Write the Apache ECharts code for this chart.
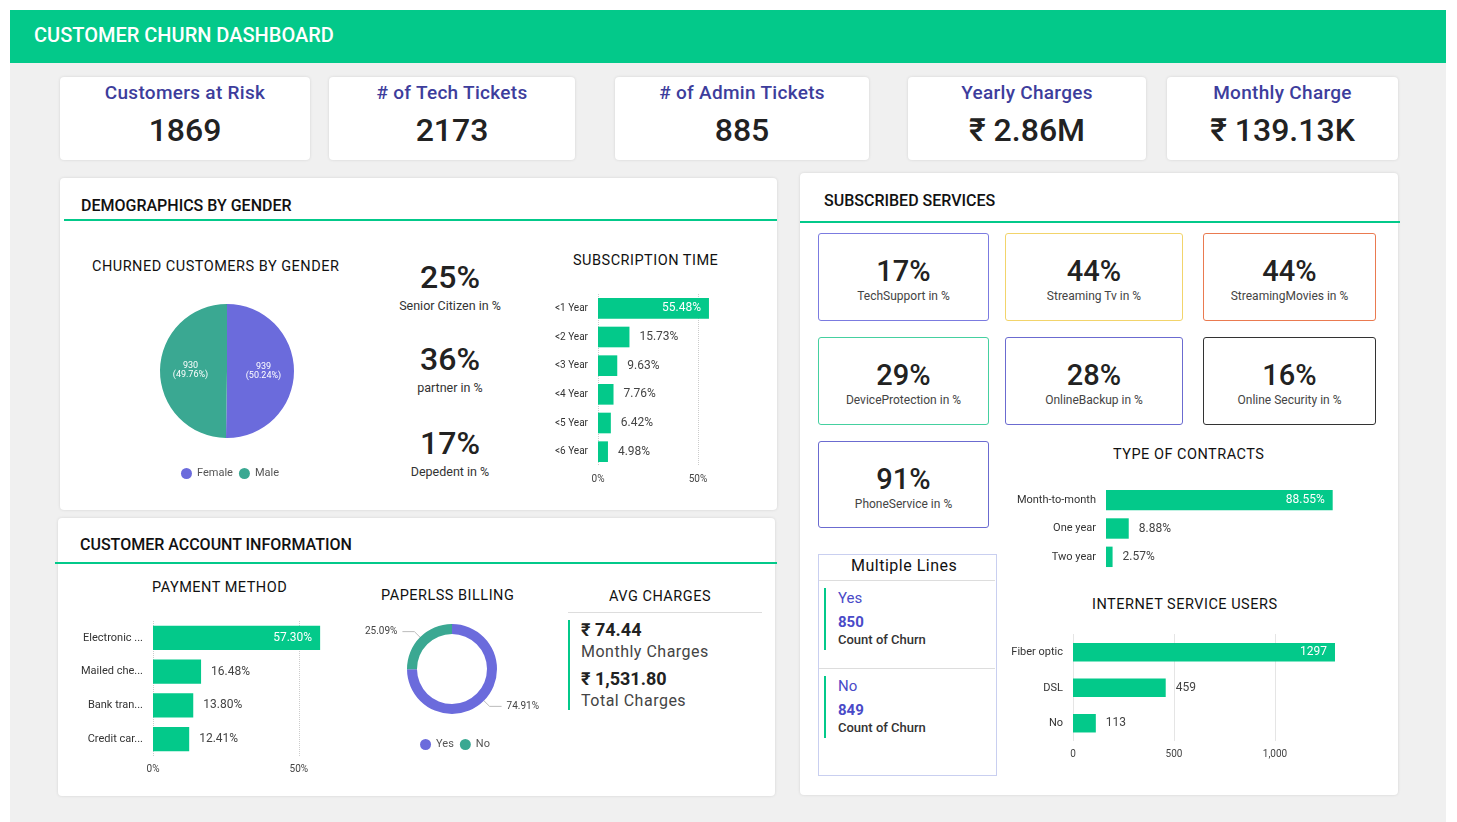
<!DOCTYPE html><html><head><meta charset="utf-8">
<script src="https://cdn.jsdelivr.net/npm/echarts@6/dist/echarts.min.js"></script>
<style>
body{margin:0;width:1457px;height:822px;position:relative;background:#fff;font-family:Roboto,"DejaVu Sans",sans-serif;overflow:hidden}
.a{position:absolute}
.card{position:absolute;background:#fff;border-radius:4px;box-shadow:0 0 3px rgba(0,0,0,.12)}
.kt{position:absolute;left:0;right:0;text-align:center;color:#3d3d9c;font-weight:500;font-size:19px;top:4px;letter-spacing:.3px}
.kv{position:absolute;left:0;right:0;text-align:center;color:#222;font-size:32px;font-weight:500;top:34px}
.ptitle{position:absolute;font-size:16px;color:#111;font-weight:500}
.gl{position:absolute;height:2px;background:#03c98a}
.sb{position:absolute;background:#fff;border:1px solid;border-radius:3px;text-align:center}
.sb .v{font-size:29px;color:#222;font-weight:500;margin-top:20px}
.sb .l{font-size:12px;color:#444;margin-top:1px}
.c{position:absolute}
.st{position:absolute;font-size:14.5px;color:#111;letter-spacing:.5px}
</style></head><body>
<div class="a" style="left:10px;top:10px;width:1436px;height:53px;background:#03c98a"></div>
<div class="a" style="left:34px;top:23px;color:#fff;font-size:20px;font-weight:500">CUSTOMER CHURN DASHBOARD</div>
<div class="a" style="left:10px;top:63px;width:1436px;height:759px;background:#f0f0f0"></div>

<div id="kpis"></div>

<div class="card" style="left:60px;top:178px;width:717px;height:332px"></div>
<div class="ptitle" style="left:81px;top:196px">DEMOGRAPHICS BY GENDER</div>
<div class="gl" style="left:64px;top:219px;width:713px"></div>
<div class="st" style="left:92px;top:258px">CHURNED CUSTOMERS BY GENDER</div>
<div class="st" style="left:573px;top:252px">SUBSCRIPTION TIME</div>
<div id="demo"></div>

<div class="card" style="left:58px;top:518px;width:717px;height:278px"></div>
<div class="ptitle" style="left:80px;top:535px">CUSTOMER ACCOUNT INFORMATION</div>
<div class="gl" style="left:55px;top:562px;width:722px"></div>
<div class="st" style="left:152px;top:579px">PAYMENT METHOD</div>
<div class="st" style="left:381px;top:587px">PAPERLSS BILLING</div>
<div class="st" style="left:609px;top:588px">AVG CHARGES</div>
<div class="a" style="left:568px;top:612px;width:194px;height:1px;background:#ddd"></div>
<div class="a" style="left:568px;top:620px;width:2px;height:90px;background:#03c98a"></div>
<div class="a" style="left:581px;top:619px;font-size:18px;font-weight:bold;color:#222">₹ 74.44</div>
<div class="a" style="left:581px;top:642px;font-size:16px;color:#444;letter-spacing:.5px">Monthly Charges</div>
<div class="a" style="left:581px;top:668px;font-size:18px;font-weight:bold;color:#222">₹ 1,531.80</div>
<div class="a" style="left:581px;top:691px;font-size:16px;color:#444;letter-spacing:.5px">Total Charges</div>

<div class="card" style="left:800px;top:173px;width:598px;height:622px"></div>
<div class="ptitle" style="left:824px;top:191px">SUBSCRIBED SERVICES</div>
<div class="gl" style="left:800px;top:221px;width:600px"></div>
<div id="svc"></div>
<div class="st" style="left:1113px;top:446px">TYPE OF CONTRACTS</div>
<div class="st" style="left:1092px;top:596px">INTERNET SERVICE USERS</div>

<div class="a" style="left:818px;top:554px;width:177px;height:220px;border:1px solid #c9cff0;background:#fff"></div>
<div class="a" style="left:851px;top:556px;font-size:16px;color:#111;letter-spacing:.5px">Multiple Lines</div>
<div class="a" style="left:819px;top:580px;width:176px;height:1px;background:#ddd"></div>
<div class="a" style="left:824px;top:588px;width:2px;height:62px;background:#03c98a"></div>
<div class="a" style="left:838px;top:589px;font-size:15px;color:#4a4ac8">Yes</div>
<div class="a" style="left:838px;top:613px;font-size:15px;color:#4a4ac8;font-weight:bold">850</div>
<div class="a" style="left:838px;top:632px;font-size:13px;color:#333;font-weight:500">Count of Churn</div>
<div class="a" style="left:819px;top:668px;width:176px;height:1px;background:#ddd"></div>
<div class="a" style="left:824px;top:676px;width:2px;height:62px;background:#03c98a"></div>
<div class="a" style="left:838px;top:677px;font-size:15px;color:#4a4ac8">No</div>
<div class="a" style="left:838px;top:701px;font-size:15px;color:#4a4ac8;font-weight:bold">849</div>
<div class="a" style="left:838px;top:720px;font-size:13px;color:#333;font-weight:500">Count of Churn</div>

<div class="c" id="pie" style="left:130px;top:290px;width:200px;height:200px"></div>
<div class="c" id="sub" style="left:540px;top:290px;width:200px;height:210px"></div>
<div class="c" id="pay" style="left:60px;top:615px;width:300px;height:175px"></div>
<div class="c" id="don" style="left:340px;top:610px;width:230px;height:150px"></div>
<div class="c" id="con" style="left:990px;top:480px;width:400px;height:95px"></div>
<div class="c" id="net" style="left:990px;top:630px;width:400px;height:145px"></div>

<script>
const kpiTitles=["Customers at Risk","# of Tech Tickets","# of Admin Tickets","Yearly Charges","Monthly Charge"];
const kpiValues=["1869","2173","885","₹ 2.86M","₹ 139.13K"];
const genderCats=["Female","Male"];
const genderVals=[939,930];
const demoPcts=["25%","36%","17%"];
const demoLabels=["Senior Citizen in %","partner in %","Depedent in %"];
const subCats=["<1 Year","<2 Year","<3 Year","<4 Year","<5 Year","<6 Year"];
const subVals=[55.48,15.73,9.63,7.76,6.42,4.98];
const payCats=["Electronic ...","Mailed che...","Bank tran...","Credit car..."];
const payVals=[57.30,16.48,13.80,12.41];
const billCats=["Yes","No"];
const billVals=[74.91,25.09];
const svcPcts=["17%","44%","44%","29%","28%","16%","91%"];
const svcLabels=["TechSupport in %","Streaming Tv in %","StreamingMovies in %","DeviceProtection in %","OnlineBackup in %","Online Security in %","PhoneService in %"];
const conCats=["Month-to-month","One year","Two year"];
const conVals=[88.55,8.88,2.57];
const netCats=["Fiber optic","DSL","No"];
const netVals=[1297,459,113];

const kpiBox=[[60,250],[329,246],[615,254],[908,238],[1167,231]];
let h='';kpiBox.forEach((b,i)=>{h+=`<div class="card" style="left:${b[0]}px;top:77px;width:${b[1]}px;height:83px"><div class="kt">${kpiTitles[i]}</div><div class="kv">${kpiValues[i]}</div></div>`});
document.getElementById('kpis').innerHTML=h;
const dy=[258,340,424];h='';
demoPcts.forEach((p,i)=>{h+=`<div class="a" style="left:380px;width:140px;text-align:center;top:${dy[i]}px;font-size:32px;font-weight:500;color:#222">${p}</div><div class="a" style="left:370px;width:160px;text-align:center;top:${dy[i]+40}px;font-size:12.5px;color:#333">${demoLabels[i]}</div>`});
document.getElementById('demo').innerHTML=h;
const sb=[[818,233,171,88,'#7b7be0'],[1005,233,178,88,'#f2d46b'],[1203,233,173,88,'#ea7a50'],[818,337,171,88,'#45d0a0'],[1005,337,178,88,'#6b6bd0'],[1203,337,173,88,'#333'],[818,441,171,87,'#6b6bd0']];
h='';sb.forEach((b,i)=>{h+=`<div class="sb" style="left:${b[0]}px;top:${b[1]}px;width:${b[2]-2}px;height:${b[3]-2}px;border-color:${b[4]}"><div class="v">${svcPcts[i]}</div><div class="l">${svcLabels[i]}</div></div>`});
document.getElementById('svc').innerHTML=h;

const G='#03c98a',F='Roboto, sans-serif';
echarts.init(document.getElementById('pie')).setOption({animation:false,
 legend:{bottom:6,left:'center',itemWidth:11,itemHeight:11,icon:'circle',itemGap:6,textStyle:{fontSize:11,color:'#555',fontFamily:F},data:genderCats},
 series:[{type:'pie',center:[97,81],radius:67,startAngle:90,clockwise:true,
  data:genderCats.map((c,i)=>({name:c,value:genderVals[i],itemStyle:{color:i?'#3aa892':'#6b6bdc'}})),
  label:{position:'inside',color:'#fff',fontSize:9,fontFamily:F,formatter:p=>p.value+'\n('+p.percent.toFixed(2)+'%)'},labelLine:{show:false}}]});

function hbar(id,cats,vals,grid,max,axis,fmt,lab,bw){
 echarts.init(document.getElementById(id)).setOption({animation:false,grid:grid,
  xAxis:{type:'value',min:0,max:max,interval:axis?axis:max,show:!!axis,axisLine:{show:false},axisTick:{show:false},
   splitLine:{show:!!axis,showMaxLine:false,lineStyle:{type:'dotted',color:'#ccc'}},axisLabel:{showMaxLabel:false,fontSize:10,color:'#444',fontFamily:F,formatter:fmt.ax}},
  yAxis:{type:'category',inverse:true,data:cats,axisLine:{show:false},axisTick:{show:false},axisLabel:{fontSize:lab,color:'#333',fontFamily:F,margin:10}},
  series:[{type:'bar',data:vals.map((v,i)=>({value:v,label:{position:i==0?'insideRight':'right',color:i==0?'#fff':'#444',distance:i==0?8:10}})),barWidth:bw,itemStyle:{color:G},
   label:{show:true,fontSize:12,fontFamily:F,formatter:fmt.l}}]});
}
hbar('sub',subCats,subVals,{left:58,width:120,top:4,bottom:34},60,50,{ax:v=>v+'%',l:p=>p.value.toFixed(2)+'%'},10,'72%');
hbar('pay',payCats,payVals,{left:93,width:175,top:6,bottom:34},60,50,{ax:v=>v+'%',l:p=>p.value.toFixed(2)+'%'},11,'72%');
hbar('con',conCats,conVals,{left:116,width:256,top:6,bottom:4},100,0,{ax:v=>v,l:p=>p.value.toFixed(2)+'%'},11,'72%');
hbar('net',netCats,netVals,{left:83,width:303,top:4.5,bottom:34},1500,500,{ax:v=>v.toLocaleString('en-US'),l:p=>p.value},11,'52%');

echarts.init(document.getElementById('don')).setOption({animation:false,
 legend:{top:124,left:'center',itemWidth:11,itemHeight:11,icon:'circle',itemGap:6,textStyle:{fontSize:11,color:'#555',fontFamily:F},data:billCats},
 series:[{type:'pie',center:[112,59],radius:[35,45],startAngle:90,
  data:billCats.map((c,i)=>({name:c,value:billVals[i],itemStyle:{color:i?'#3aa892':'#6b6bdc'}})),
  label:{color:'#444',fontSize:10,fontFamily:F,formatter:p=>p.value.toFixed(2)+'%'},labelLine:{length:8,length2:12,lineStyle:{color:'#bbb'}}}]});
</script></body></html>
